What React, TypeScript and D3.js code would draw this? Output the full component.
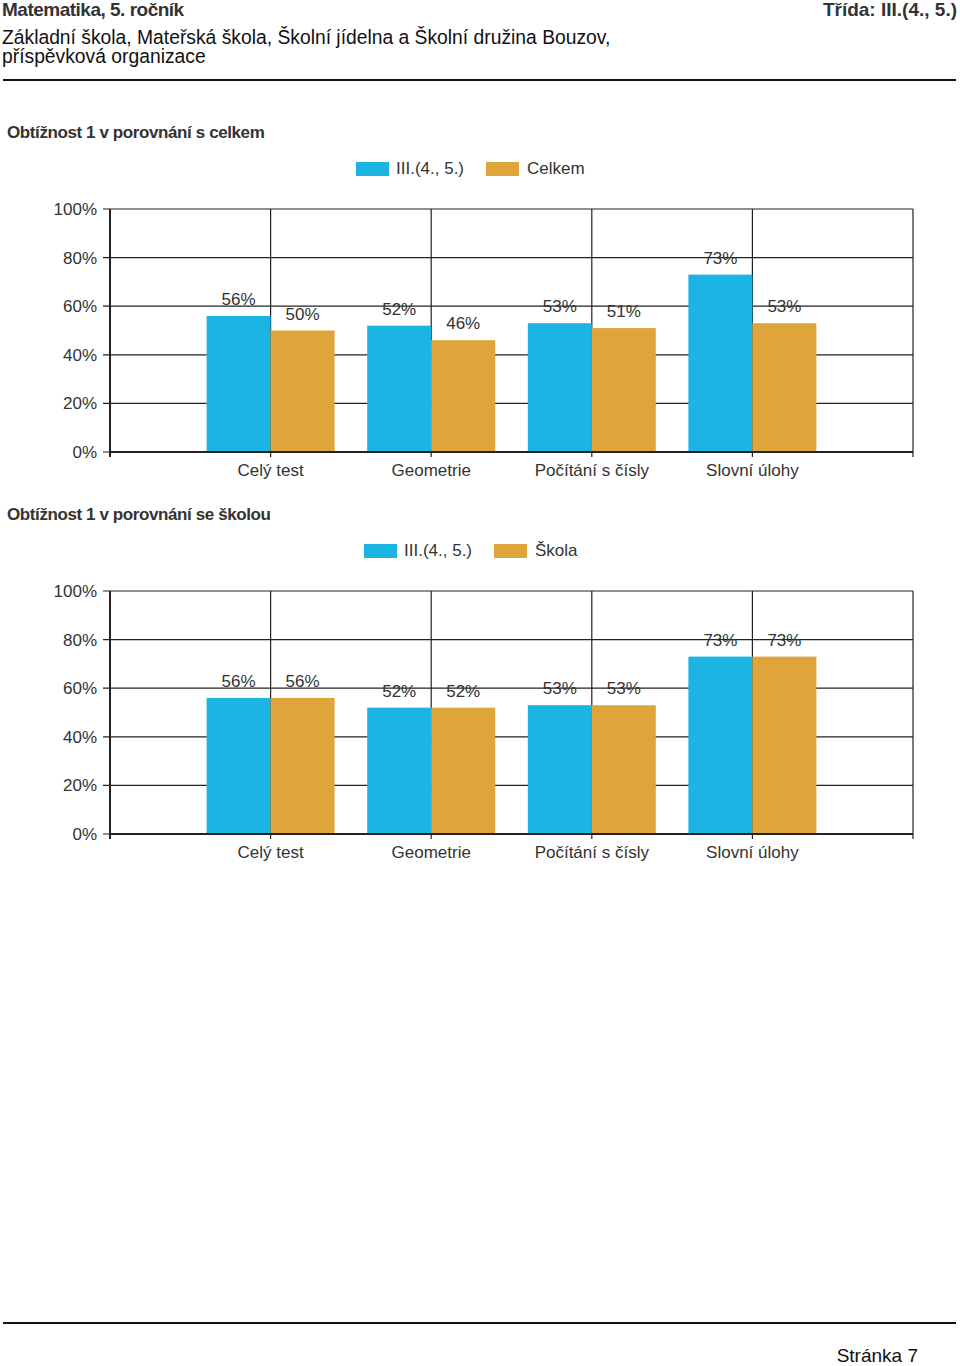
import React from "react";
import * as d3 from "d3";

const categories = ["Celý test", "Geometrie", "Počítání s čísly", "Slovní úlohy"];
const classValues = [56, 52, 53, 73];
const totalValues = [50, 46, 51, 53];
const schoolValues = [56, 52, 53, 73];
const yTicks = [0, 20, 40, 60, 80, 100];

const BLUE = "#1cb4e2";
const ORANGE = "#dfa53a";
const FONT = "'Liberation Sans', Arial, sans-serif";
const TEXT = "#333";

const plotLeft = 110;
const plotRight = 913;
const barWidth = 64;

type ChartProps = {
  top: number;
  title: string;
  legendX: number;
  seriesName: string;
  values: number[];
  compare: number[];
};

const BarChart = ({ top, title, legendX, seriesName, values, compare }: ChartProps) => {
  const y0 = top + 320; // zero line
  const y100 = top + 77;
  const x = d3.scaleLinear().domain([0, categories.length + 1]).range([plotLeft, plotRight]);
  const y = d3.scaleLinear().domain([0, 100]).range([y0, y100]);
  const gridX = d3.range(1, categories.length + 2);

  return (
    <g>
      <text x={7} y={top + 6} fontFamily={FONT} fontSize={17} fontWeight="bold" fill={TEXT}
        style={{ letterSpacing: "-0.4px" }}>
        {title}
      </text>

      {/* legend */}
      <rect x={legendX} y={top + 30} width={33} height={14} fill={BLUE} />
      <text x={legendX + 40} y={top + 42} fontFamily={FONT} fontSize={17} fill={TEXT}>III.(4., 5.)</text>
      <rect x={legendX + 130} y={top + 30} width={33} height={14} fill={ORANGE} />
      <text x={legendX + 171} y={top + 42} fontFamily={FONT} fontSize={17} fill={TEXT}>{seriesName}</text>

      {/* horizontal grid */}
      {yTicks.map((t) => (
        <g key={t}>
          <line x1={plotLeft - 7} x2={plotRight} y1={y(t)} y2={y(t)} stroke="#222" strokeWidth={1.2} />
          <text x={97} y={y(t) + 6} textAnchor="end" fontFamily={FONT} fontSize={17} fill={TEXT}>{t}%</text>
        </g>
      ))}
      {/* vertical grid */}
      {gridX.map((i) => (
        <line key={i} x1={x(i)} x2={x(i)} y1={y100} y2={y0 + 5} stroke="#222" strokeWidth={1.2} />
      ))}

      {/* bars */}
      {categories.map((c, i) => {
        const cx = x(i + 1);
        return (
          <g key={c}>
            <rect x={cx - barWidth} y={y(values[i])} width={barWidth} height={y0 - y(values[i])} fill={BLUE} />
            <rect x={cx} y={y(compare[i])} width={barWidth} height={y0 - y(compare[i])} fill={ORANGE} />
            <text x={cx - barWidth / 2} y={y(values[i]) - 11} textAnchor="middle" fontFamily={FONT} fontSize={17} fill={TEXT}>
              {values[i]}%
            </text>
            <text x={cx + barWidth / 2} y={y(compare[i]) - 11} textAnchor="middle" fontFamily={FONT} fontSize={17} fill={TEXT}>
              {compare[i]}%
            </text>
            <text x={cx} y={y0 + 24} textAnchor="middle" fontFamily={FONT} fontSize={17} fill={TEXT}>{c}</text>
          </g>
        );
      })}

      {/* axes */}
      <line x1={plotLeft} x2={plotLeft} y1={y100} y2={y0 + 5} stroke="#222" strokeWidth={2} />
      <line x1={plotLeft} x2={plotRight} y1={y0} y2={y0} stroke="#222" strokeWidth={2} />
    </g>
  );
};

export default function App() {
  return (
    <div style={{ position: "absolute", left: 0, top: 0 }}>
      <svg width={960} height={1366} style={{ display: "block", background: "#fff" }}>
        <text x={2} y={16} fontFamily={FONT} fontSize={19} fontWeight="bold" fill={TEXT}
          style={{ letterSpacing: "-0.5px" }}>
          Matematika, 5. ročník
        </text>
        <text x={957} y={16} textAnchor="end" fontFamily={FONT} fontSize={19} fontWeight="bold" fill={TEXT}>
          Třída: III.(4., 5.)
        </text>
        <text x={2} y={44} fontFamily={FONT} fontSize={19.3} fill="#111">
          Základní škola, Mateřská škola, Školní jídelna a Školní družina Bouzov,
        </text>
        <text x={2} y={63} fontFamily={FONT} fontSize={19.3} fill="#111">příspěvková organizace</text>
        <line x1={3} x2={956} y1={80} y2={80} stroke="#111" strokeWidth={2} />

        <BarChart top={132} title="Obtížnost 1 v porovnání s celkem" legendX={356}
          seriesName="Celkem" values={classValues} compare={totalValues} />
        <BarChart top={514} title="Obtížnost 1 v porovnání se školou" legendX={364}
          seriesName="Škola" values={classValues} compare={schoolValues} />

        <line x1={3} x2={956} y1={1323} y2={1323} stroke="#111" strokeWidth={2} />
        <text x={918} y={1362} textAnchor="end" fontFamily={FONT} fontSize={19} fill="#111">Stránka 7</text>
      </svg>
    </div>
  );
}
